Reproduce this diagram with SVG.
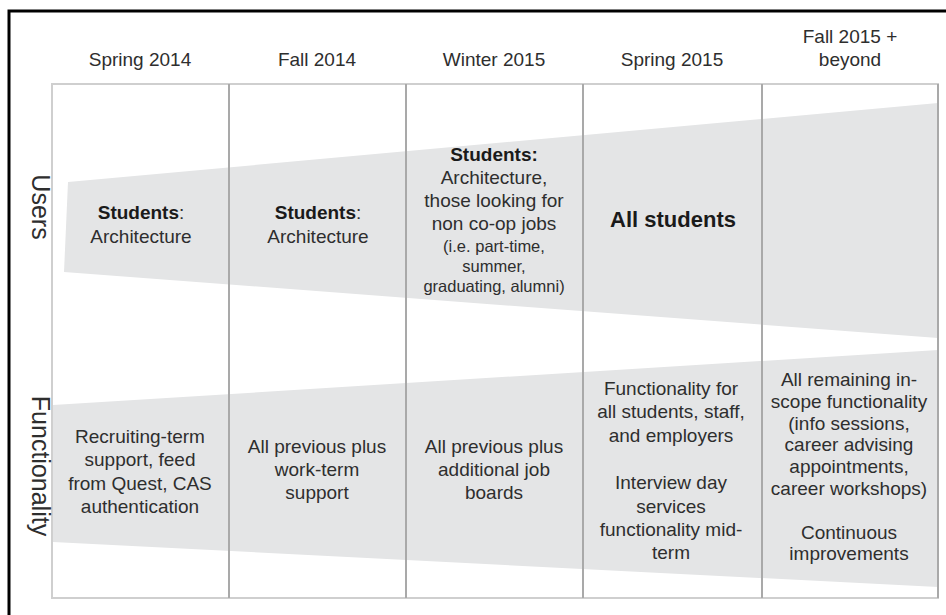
<svg xmlns="http://www.w3.org/2000/svg" width="946" height="615" viewBox="0 0 946 615">
<style>
text{font-family:"Liberation Sans",Arial,sans-serif;fill:#2e2e2e;text-anchor:middle}
.h{font-size:19px}
.t{font-size:19px}
.s{font-size:16.5px}
.b{font-weight:bold;fill:#1a1a1a}
.lbl{font-size:25px;text-anchor:middle}
.band{fill:#e4e5e6}
.col{stroke:#a9a9a9;stroke-width:2;fill:none}
.frame{stroke:#cfcfcf;stroke-width:2;fill:none}
</style>
<rect width="946" height="615" fill="#ffffff"/>
<path d="M9,615 V11 H946" fill="none" stroke="#000" stroke-width="3"/>

<g id="bands">
<polygon class="band" points="68,182 938,103 938,338 64,272"/>
<polygon class="band" points="53,405 938,350 938,587 53,542"/>
</g>

<g id="grid">
<rect class="frame" x="52" y="84" width="886" height="514"/>
<line class="col" x1="229" y1="84" x2="229" y2="598"/>
<line class="col" x1="406" y1="84" x2="406" y2="598"/>
<line class="col" x1="583" y1="84" x2="583" y2="598"/>
<line class="col" x1="762" y1="84" x2="762" y2="598"/>
<line class="col" x1="938" y1="84" x2="938" y2="598"/>
</g>

<g id="headers">
<text class="h" x="140" y="66">Spring 2014</text>
<text class="h" x="317" y="66">Fall 2014</text>
<text class="h" x="494" y="66">Winter 2015</text>
<text class="h" x="672" y="66">Spring 2015</text>
<text class="h" x="850" y="43">Fall 2015 +</text>
<text class="h" x="850" y="66">beyond</text>
</g>

<g id="row-labels">
<text class="lbl" transform="translate(32,207) rotate(90)">Users</text>
<text class="lbl" transform="translate(32,466) rotate(90)">Functionality</text>
</g>

<g id="users-spring2014">
<text class="t" x="141" y="219"><tspan class="b">Students</tspan>:</text>
<text class="t" x="141" y="243">Architecture</text>
</g>
<g id="users-fall2014">
<text class="t" x="318" y="219"><tspan class="b">Students</tspan>:</text>
<text class="t" x="318" y="243">Architecture</text>
</g>
<g id="users-winter2015">
<text class="t b" x="494" y="161">Students:</text>
<text class="t" x="494" y="184">Architecture,</text>
<text class="t" x="494" y="207">those looking for</text>
<text class="t" x="494" y="230">non co-op jobs</text>
<text class="s" x="494" y="252">(i.e. part-time,</text>
<text class="s" x="494" y="272">summer,</text>
<text class="s" x="494" y="292">graduating, alumni)</text>
</g>
<g id="users-spring2015">
<text class="b" x="673" y="227" style="font-size:22px">All students</text>
</g>

<g id="func-spring2014">
<text class="t" x="140" y="443">Recruiting-term</text>
<text class="t" x="140" y="466">support, feed</text>
<text class="t" x="140" y="490">from Quest, CAS</text>
<text class="t" x="140" y="513">authentication</text>
</g>
<g id="func-fall2014">
<text class="t" x="317" y="453">All previous plus</text>
<text class="t" x="317" y="476">work-term</text>
<text class="t" x="317" y="499">support</text>
</g>
<g id="func-winter2015">
<text class="t" x="494" y="453">All previous plus</text>
<text class="t" x="494" y="476">additional job</text>
<text class="t" x="494" y="499">boards</text>
</g>
<g id="func-spring2015">
<text class="t" x="671" y="395">Functionality for</text>
<text class="t" x="671" y="418">all students, staff,</text>
<text class="t" x="671" y="442">and employers</text>
<text class="t" x="671" y="489">Interview day</text>
<text class="t" x="671" y="513">services</text>
<text class="t" x="671" y="536">functionality mid-</text>
<text class="t" x="671" y="559">term</text>
</g>
<g id="func-fall2015">
<text class="t" x="849" y="386">All remaining in-</text>
<text class="t" x="849" y="408">scope functionality</text>
<text class="t" x="849" y="430">(info sessions,</text>
<text class="t" x="849" y="451">career advising</text>
<text class="t" x="849" y="473">appointments,</text>
<text class="t" x="849" y="495">career workshops)</text>
<text class="t" x="849" y="539">Continuous</text>
<text class="t" x="849" y="560">improvements</text>
</g>
</svg>
